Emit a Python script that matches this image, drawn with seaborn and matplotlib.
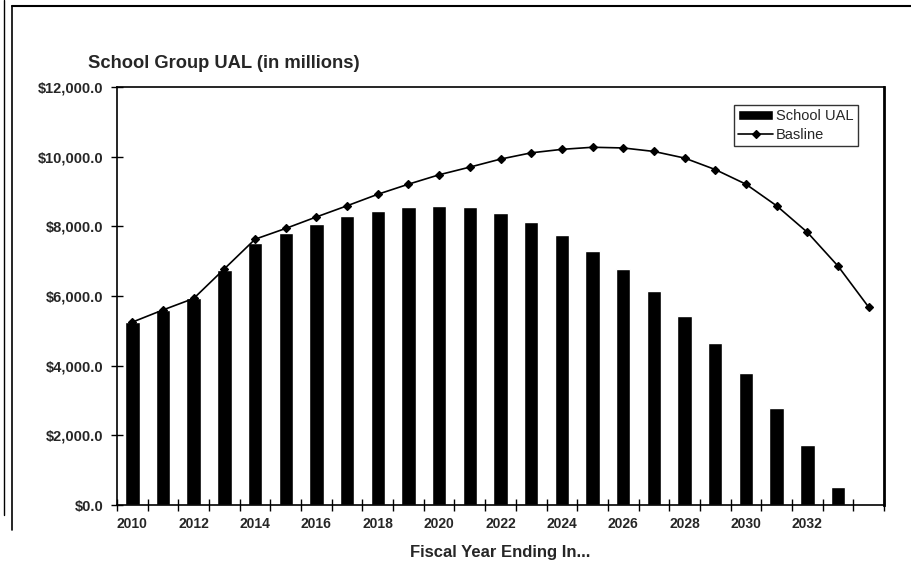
import numpy as np
import pandas as pd
import matplotlib
matplotlib.use("Agg")
import matplotlib.pyplot as plt
import seaborn as sns
from matplotlib.lines import Line2D
from matplotlib.ticker import FuncFormatter, FixedLocator

years = [str(y) for y in range(2010, 2035)]
school_ual = [5250, 5600, 5950, 6750, 7530, 7800, 8060, 8300, 8440, 8560,
              8575, 8556, 8375, 8116, 7752, 7292, 6767, 6153, 5435, 4660,
              3781, 2794, 1714, 508, np.nan]
baseline = [5250, 5600, 5930, 6780, 7630, 7940, 8270, 8590, 8920, 9210,
            9480, 9700, 9930, 10110, 10210, 10270, 10250, 10150, 9960, 9630,
            9210, 8590, 7830, 6860, 5680]
xtick_labels = [str(y) for y in range(2010, 2033, 2)]
yticks = [0, 2000, 4000, 6000, 8000, 10000, 12000]

df = pd.DataFrame({"year": years, "school": school_ual, "baseline": baseline})

sns.set_theme(style="white")
plt.rcParams['font.family'] = ['Liberation Sans', 'DejaVu Sans']

fig = plt.figure(figsize=(9.11, 5.80), dpi=100)
ax = fig.add_axes([117/911, 1-505/580, (884-117)/911, (505-87)/580])

sns.barplot(data=df, x="year", y="school", order=years, color="black",
            width=0.47, saturation=1, ax=ax, label="School UAL")
sns.pointplot(data=df, x="year", y="baseline", order=years, color="black",
              markers="D", markersize=4.5, linewidth=1.2, ax=ax, label="Basline")

ax.set_xlim(-0.5, len(years) - 0.5)
ax.set_ylim(0, 12000)

# x: labels every 2 years, tick marks between categories
label_pos = [years.index(l) for l in xtick_labels]
ax.set_xticks(label_pos)
ax.set_xticklabels(xtick_labels)
ax.xaxis.set_minor_locator(FixedLocator(np.arange(-0.5, len(years), 1.0)))
ax.tick_params(axis="x", which="major", length=0, pad=9, labelsize=10)
ax.tick_params(axis="x", which="minor", direction="inout", length=8, width=1, color="black", bottom=True)

ax.set_yticks(yticks)
ax.yaxis.set_major_formatter(FuncFormatter(lambda v, p: "${:,.1f}".format(v)))
ax.tick_params(axis="y", direction="inout", length=8, width=1, color="black", left=True, labelsize=10.5, pad=6)

for lab in ax.get_xticklabels() + ax.get_yticklabels():
    lab.set_fontweight("bold")

for s in ax.spines.values():
    s.set_color("black")
    s.set_linewidth(1.2)
ax.spines["right"].set_linewidth(2)

ax.set_ylabel("")
ax.set_xlabel("Fiscal Year Ending In...", fontsize=12, fontweight="bold", labelpad=10)

handles, labels = ax.get_legend_handles_labels()
order = [labels.index("School UAL"), labels.index("Basline")]
leg = ax.legend([handles[i] for i in order], [labels[i] for i in order],
                loc="upper right", bbox_to_anchor=((858-117)/767, (505-105)/418),
                borderaxespad=0, fancybox=False, frameon=True, fontsize=10.5,
                handlelength=2.4, handletextpad=0.2, borderpad=0.3, labelspacing=0.3)
leg.get_frame().set_edgecolor("black")
leg.get_frame().set_linewidth(1)

fig.text(88/911, 1-64/580, "School Group UAL (in millions)", fontsize=13.2,
         fontweight="bold", va="center", ha="left")

# scanned outer frame
fig.add_artist(Line2D([12/911, 1.0], [1-6/580, 1-6/580], color="black", lw=1.5, transform=fig.transFigure))
fig.add_artist(Line2D([12/911, 12/911], [1-6/580, 1-530/580], color="black", lw=1.2, transform=fig.transFigure))
fig.add_artist(Line2D([4/911, 4/911], [1.0, 1-515/580], color="black", lw=1.0, transform=fig.transFigure))

fig.savefig("out.png", dpi=100, facecolor="white")
